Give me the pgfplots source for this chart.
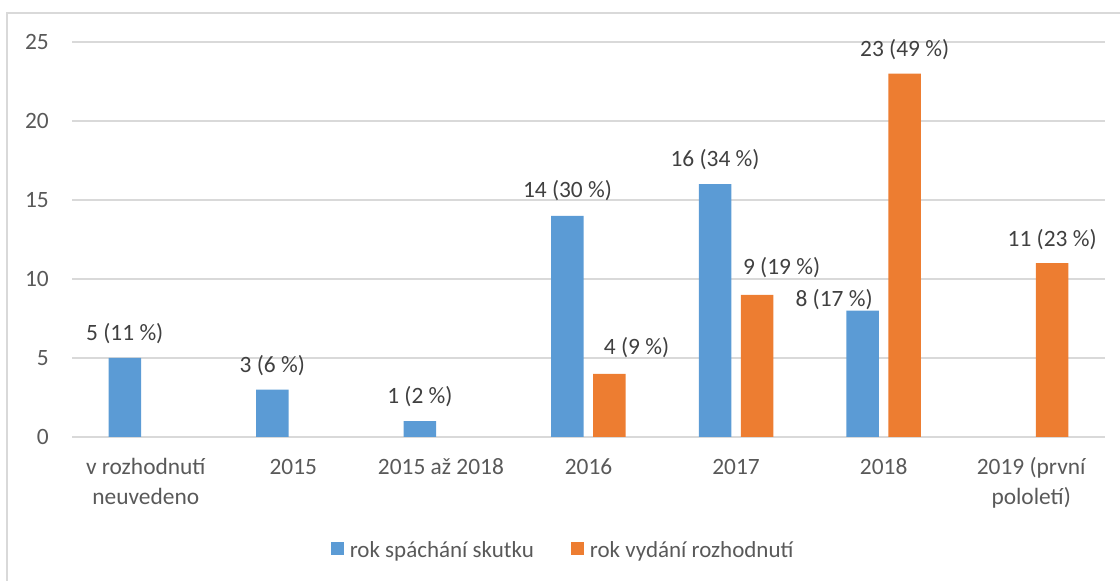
\documentclass[border=0pt]{standalone}
\usepackage{pgfplots}
\pgfplotsset{compat=1.18}
\usepackage{pgfplotstable}
\usepackage{fontspec}
\setmainfont{Carlito}
\definecolor{cblue}{HTML}{5B9BD5}
\definecolor{corange}{HTML}{ED7D31}
\definecolor{gridgray}{HTML}{D9D9D9}
\definecolor{ticktext}{HTML}{595959}
\definecolor{datatext}{HTML}{404040}

\pgfplotstableread{
x y dx dy label
0 5 0 17.5 {5 (11 \%)}
1 3 0 17.5 {3 (6 \%)}
2 1 0 17.5 {1 (2 \%)}
3 14 0 18 {14 (30 \%)}
4 16 0 18 {16 (34 \%)}
5 8 -28.5 4 {8 (17 \%)}
}\spachani

\pgfplotstableread{
x y dx dy label
3 4 27 19 {4 (9 \%)}
4 9 24.5 20 {9 (19 \%)}
5 23 0 17 {23 (49 \%)}
6 11 0 17 {11 (23 \%)}
}\vydani

\begin{document}
\fontsize{23.4}{29.5}\selectfont
\begin{tikzpicture}
\useasboundingbox (0,0) rectangle (1120pt,581pt);
\draw[gridgray, line width=1.3pt] (7pt,-20pt) -- (7pt,568pt) -- (1140pt,568pt);
\begin{axis}[
  at={(72pt,144pt)}, anchor=south west,
  width=1033pt, height=395pt, scale only axis,
  ybar=9.5pt, bar width=32.5pt,
  xmin=-0.5, xmax=6.5, ymin=0, ymax=25,
  enlargelimits=false,
  xtick={0,...,6},
  xticklabels={{\begin{tabular}[t]{@{}c@{}}v rozhodnutí\\neuvedeno\end{tabular}},2015,2015 až 2018,2016,2017,2018,{\begin{tabular}[t]{@{}c@{}}2019 (první\\pololetí)\end{tabular}}},
  ytick={0,5,...,25},
  ymajorgrids,
  grid style={draw=gridgray, line width=1.3pt},
  axis line style={draw=none},
  major tick length=0pt,
  tick style={draw=none},
  ticklabel style={font=\fontsize{23.4}{29.5}\selectfont, text=ticktext},
  /pgf/number format/assume math mode=true,
  yticklabel style={anchor=east, inner sep=0pt, xshift=-23pt},
  xticklabel style={anchor=base, inner sep=0pt, yshift=-38pt},
  point meta=explicit symbolic,
  nodes near coords,
  visualization depends on={\thisrow{dx}\as\dx},
  visualization depends on={\thisrow{dy}\as\dy},
  every node near coord/.append style={anchor=base, inner sep=0pt, text=datatext,
     font=\fontsize{23.4}{29.5}\selectfont, xshift=\dx pt, yshift=\dy pt},
  legend style={at={(0.4745,-0.2886)}, anchor=center, draw=none, fill=none,
     inner sep=0pt, outer sep=0pt, text=ticktext,
     font=\fontsize{23}{29}\selectfont,
     nodes={inner sep=0pt},
     /tikz/every odd column/.append style={column sep=6pt},
     /tikz/every even column/.append style={column sep=37pt}},
  legend columns=2,
  legend cell align=left,
]
\addplot[fill=cblue, draw=none,
  legend image code/.code={\fill[cblue] (0pt,-4pt) rectangle (13pt,9pt);}]
  table[x=x, y=y, meta=label] {\spachani};
\addplot[fill=corange, draw=none,
  legend image code/.code={\fill[corange] (0pt,-4pt) rectangle (13pt,9pt);}]
  table[x=x, y=y, meta=label] {\vydani};
\legend{rok spáchání skutku, rok vydání rozhodnutí}
\end{axis}
\end{tikzpicture}
\end{document}
